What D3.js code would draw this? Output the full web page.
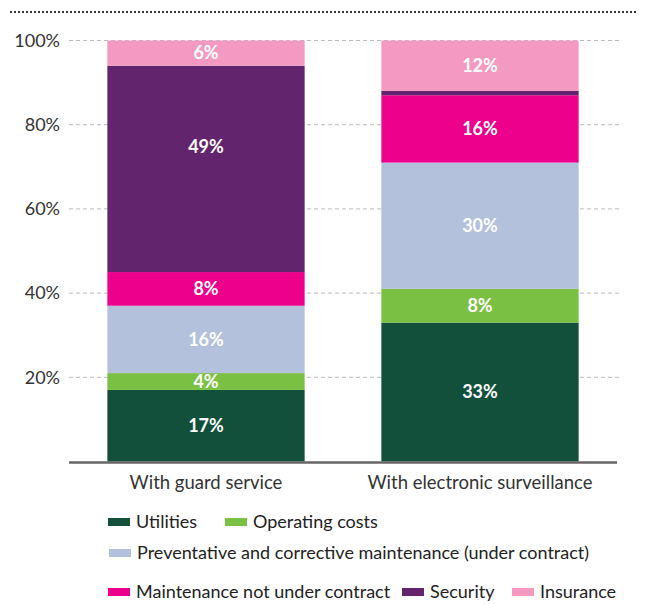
<!DOCTYPE html>
<html>
<head>
<meta charset="utf-8">
<script src="https://cdn.jsdelivr.net/npm/d3@7/dist/d3.min.js"></script>
<style>
  body { margin: 0; background: #fff; }
  svg text { font-family: Lato, "Noto Sans", sans-serif; }
</style>
</head>
<body>
<div id="chart"></div>
<script>
const categories = ["With guard service", "With electronic surveillance"];
const seriesNames = ["Utilities", "Operating costs", "Preventative and corrective maintenance (under contract)",
  "Maintenance not under contract", "Security", "Insurance"];
const seriesColors = ["#12503c", "#7ac143", "#b3c1dc", "#ec008c", "#62246c", "#f49ac1"];
// values per series, [guard, electronic]
const utilities = [17, 33];
const operating = [4, 8];
const preventative = [16, 30];
const maintenance = [8, 16];
const security = [49, 1];
const insurance = [6, 12];
const yTicks = [20, 40, 60, 80, 100];

const seriesValues = [utilities, operating, preventative, maintenance, security, insurance];

const width = 652, height = 605;
const svg = d3.select("#chart").append("svg")
  .attr("width", width)
  .attr("height", height);

// dotted rule on top
svg.append("line")
  .attr("x1", 10).attr("x2", 636)
  .attr("y1", 12).attr("y2", 12)
  .attr("stroke", "#333")
  .attr("stroke-width", 2)
  .attr("stroke-dasharray", "2,2");

const x = d3.scaleBand()
  .domain(categories)
  .range([69, 617])
  .paddingInner(0.28)
  .paddingOuter(0.14);

const y = d3.scaleLinear()
  .domain([0, 100])
  .range([461.5, 40.5]);

// gridlines
svg.append("g")
  .selectAll("line")
  .data(yTicks)
  .enter()
  .append("line")
  .attr("x1", 69).attr("x2", 620)
  .attr("y1", d => y(d)).attr("y2", d => y(d))
  .attr("stroke", "#bbb")
  .attr("stroke-width", 1)
  .attr("stroke-dasharray", "4,3");

// y labels
svg.append("g")
  .selectAll("text")
  .data(yTicks)
  .enter()
  .append("text")
  .attr("x", 60)
  .attr("y", d => y(d))
  .attr("dy", "0.35em")
  .attr("text-anchor", "end")
  .attr("fill", "#333")
  .style("font-size", "18px")
  .text(d => d + "%");

// stack
const table = categories.map((c, i) => {
  const row = { cat: c };
  seriesNames.forEach((s, j) => { row[s] = seriesValues[j][i]; });
  return row;
});
const stacked = d3.stack().keys(seriesNames)(table);

const layers = svg.append("g")
  .selectAll("g")
  .data(stacked)
  .enter()
  .append("g")
  .attr("fill", (d, i) => seriesColors[i]);

layers.selectAll("rect")
  .data(d => d)
  .enter()
  .append("rect")
  .attr("x", d => x(d.data.cat))
  .attr("width", x.bandwidth())
  .attr("y", d => y(d[1]))
  .attr("height", d => y(d[0]) - y(d[1]));

// label at middle, tall segments a bit higher
function labelY(d) {
  const top = y(d[1]), bot = y(d[0]);
  const h = bot - top;
  return h > 150 ? top + h * 0.39 : top + h / 2;
}

layers.selectAll("text")
  .data(d => d.filter(p => p[1] - p[0] >= 3))
  .enter()
  .append("text")
  .attr("x", d => x(d.data.cat) + x.bandwidth() / 2)
  .attr("y", labelY)
  .attr("dy", "0.35em")
  .attr("text-anchor", "middle")
  .attr("fill", "#fff")
  .style("font-size", "18px")
  .style("font-weight", "bold")
  .text(d => (d[1] - d[0]) + "%");

// baseline
svg.append("line")
  .attr("x1", 69).attr("x2", 617)
  .attr("y1", y(0) + 1).attr("y2", y(0) + 1)
  .attr("stroke", "#666")
  .attr("stroke-width", 2.5);

// category labels
svg.append("g")
  .selectAll("text")
  .data(categories)
  .enter()
  .append("text")
  .attr("x", d => x(d) + x.bandwidth() / 2)
  .attr("y", 483)
  .attr("dy", "0.35em")
  .attr("text-anchor", "middle")
  .attr("fill", "#333")
  .style("font-size", "18.5px")
  .text(d => d);

// legend
const legendRows = [
  { y: 522, items: [[0, 108], [1, 225]] },
  { y: 553, items: [[2, 109]] },
  { y: 592, items: [[3, 108], [4, 402], [5, 512]] }
];
legendRows.forEach(r => {
  const g = svg.append("g").attr("transform", `translate(0,${r.y})`);
  r.items.forEach(([k, lx]) => {
    g.append("rect")
      .attr("x", lx).attr("y", -4)
      .attr("width", 22).attr("height", 8)
      .attr("fill", seriesColors[k]);
    g.append("text")
      .attr("x", lx + 28)
      .attr("y", 0)
      .attr("dy", "0.35em")
      .attr("fill", "#222")
      .style("font-size", "18px")
      .text(seriesNames[k]);
  });
});
</script>
</body>
</html>
